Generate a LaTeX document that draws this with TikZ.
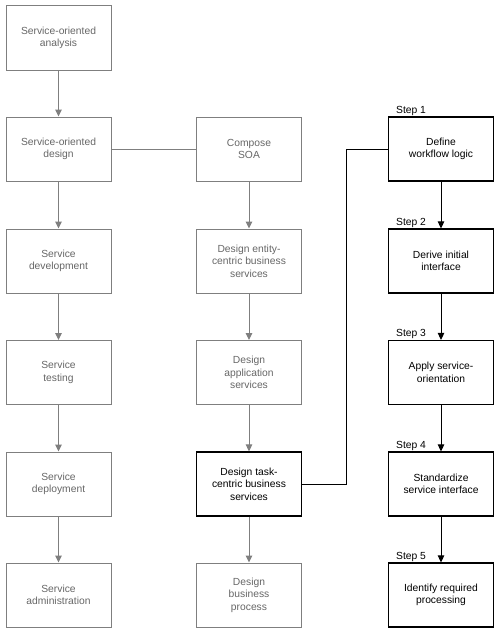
\documentclass[tikz,border=0pt]{standalone}
\usepackage{fontspec}
\setmainfont{Liberation Sans}
\usetikzlibrary{arrows.meta}
\definecolor{boxgray}{HTML}{7F7F7F}
\definecolor{textgray}{HTML}{666666}
\begin{document}
\begin{tikzpicture}[x=1pt,y=-1pt,
    phase/.style={draw=boxgray, line width=1pt, text=textgray, minimum width=105pt, minimum height=64pt,
      inner sep=0pt, align=center, font=\fontsize{10.3}{12.5}\selectfont},
    stepbox/.style={phase, draw=black, line width=1.2pt, text=black},
    steplabel/.style={anchor=base west, inner sep=0pt, font=\fontsize{10.3}{12.5}\selectfont},
    grayarrow/.style={draw=boxgray, line width=1pt, -{Triangle[length=7pt,width=6.5pt]}},
    blackarrow/.style={draw=black, line width=1pt, -{Triangle[length=7pt,width=6.5pt]}}]
    \useasboundingbox (0,0) rectangle (500,634);
    % Draw lifecycle column
    \node[phase] (analysis) at (58.5,38) {Service-oriented\\analysis};
    \node[phase] (design) at (58.5,149) {Service-oriented\\design};
    \node[phase] (development) at (58.5,261) {Service\\development};
    \node[phase] (testing) at (58.5,372.5) {Service\\testing};
    \node[phase] (deployment) at (58.5,484) {Service\\deployment};
    \node[phase] (administration) at (58.5,595) {Service\\administration};
    % Draw design column
    \node[phase] (compose) at (249,149) {Compose\\SOA};
    \node[phase] (entity) at (249,261) {Design entity-\\centric business\\services};
    \node[phase] (application) at (249,372.5) {Design\\application\\services};
    \node[stepbox] (task) at (249,484) {Design task-\\centric business\\services};
    \node[phase] (process) at (249,595) {Design\\business\\process};
    % Draw step column
    \node[stepbox] (workflow) at (441,149) {Define\\workflow logic};
    \node[stepbox] (interface) at (441,261) {Derive initial\\interface};
    \node[stepbox] (orientation) at (441,372.5) {Apply service-\\orientation};
    \node[stepbox] (standardize) at (441,484) {Standardize\\service interface};
    \node[stepbox] (processing) at (441,595) {Identify required\\processing};
    % Add step labels
    \node[steplabel] (step1) at (396,113) {Step 1};
    \node[steplabel] (step2) at (396,225) {Step 2};
    \node[steplabel] (step3) at (396,336.5) {Step 3};
    \node[steplabel] (step4) at (396,448) {Step 4};
    \node[steplabel] (step5) at (396,559) {Step 5};
    % Draw gray arrows
    \draw[grayarrow] (analysis) -- (design);
    \draw[grayarrow] (design) -- (development);
    \draw[grayarrow] (development) -- (testing);
    \draw[grayarrow] (testing) -- (deployment);
    \draw[grayarrow] (deployment) -- (administration);
    \draw[grayarrow] (compose) -- (entity);
    \draw[grayarrow] (entity) -- (application);
    \draw[grayarrow] (application) -- (task);
    \draw[grayarrow] (task) -- (process);
    % Draw black arrows
    \draw[blackarrow] (workflow) -- (interface);
    \draw[blackarrow] (interface) -- (orientation);
    \draw[blackarrow] (orientation) -- (standardize);
    \draw[blackarrow] (standardize) -- (processing);
    % Draw links between columns
    \draw[draw=boxgray, line width=1pt] (design.east) -- (compose.west);
    \draw[draw=black, line width=1pt] (task.east) -- ++(44.5,0) |- (workflow.west);
\end{tikzpicture}
\end{document}
